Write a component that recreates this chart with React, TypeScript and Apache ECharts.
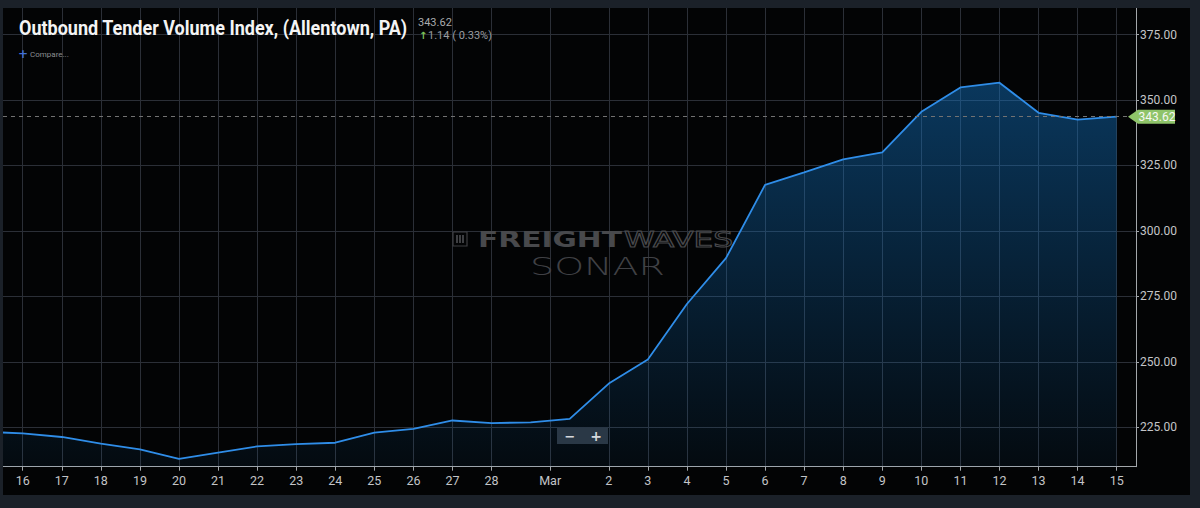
import React, { useEffect, useRef } from 'react';
import * as echarts from 'echarts';

// ---- data ----
const dates = [
  'Feb 15', 'Feb 16', 'Feb 17', 'Feb 18', 'Feb 19', 'Feb 20', 'Feb 21', 'Feb 22',
  'Feb 23', 'Feb 24', 'Feb 25', 'Feb 26', 'Feb 27', 'Feb 28', 'Feb 29',
  'Mar 1', 'Mar 2', 'Mar 3', 'Mar 4', 'Mar 5', 'Mar 6', 'Mar 7', 'Mar 8',
  'Mar 9', 'Mar 10', 'Mar 11', 'Mar 12', 'Mar 13', 'Mar 14', 'Mar 15',
];
const values = [
  223.3, 222.7, 221.3, 218.8, 216.6, 212.9, 215.3, 217.7,
  218.6, 219.1, 223.0, 224.4, 227.6, 226.6, 226.9,
  228.2, 241.7, 250.9, 272.1, 289.6, 317.6, 322.4, 327.3,
  330.0, 345.5, 354.8, 356.6, 345.1, 342.48, 343.62,
];
const unlabeledDates = ['Feb 15', 'Feb 29', 'Mar 1'];
const monthStart = 'Mar 1';
const monthLabel = 'Mar';
const yTicks = [225, 250, 275, 300, 325, 350, 375];
const titleText = 'Outbound Tender Volume Index, (Allentown, PA)';
const lastValueText = '343.62';
const changeText = '1.14 ( 0.33%)';

// axis extents
const xMin = 0.496;
const xMax = 29.494;
const yMin = 209.95;
const yMax = 385.14;

function measure(text: string, font: string): number {
  const c = document.createElement('canvas').getContext('2d');
  if (!c) return text.length * 10;
  c.font = font;
  return c.measureText(text).width;
}

export default function App() {
  const ref = useRef<HTMLDivElement>(null);

  useEffect(() => {
    if (!ref.current) return;
    const chart = echarts.init(ref.current, undefined, { renderer: 'svg' });

    const tickMap: Record<string, string> = {};
    const xTickValues: number[] = [];
    dates.forEach((d, i) => {
      if (!unlabeledDates.includes(d)) {
        xTickValues.push(i);
        tickMap[String(i)] = d.split(' ')[1];
      }
    });
    const monthPos = dates.indexOf(monthStart) - 0.5;
    xTickValues.push(monthPos);
    tickMap[String(monthPos)] = monthLabel;
    xTickValues.sort((a, b) => a - b);

    const seriesData = values.map((v, i) => [i, v]);
    const last = values[values.length - 1];

    const gridColor = '#2b2f37';
    const axisColor = '#a3a7ab';
    const labelColor = '#c3c5c8';

    chart.setOption({
      animation: false,
      backgroundColor: '#030405',
      grid: { left: 3, right: 64, top: 8, bottom: 41.3, containLabel: false },
      xAxis: {
        type: 'value',
        min: xMin,
        max: xMax,
        axisLine: { show: true, onZero: false, lineStyle: { color: axisColor, width: 1 } },
        axisTick: { show: true, length: 4, customValues: xTickValues, lineStyle: { color: axisColor } },
        axisLabel: {
          customValues: xTickValues,
          formatter: (v: number) => tickMap[String(v)] ?? '',
          color: labelColor,
          fontSize: 12.5,
          fontFamily: 'Roboto',
          margin: 7,
        },
        splitLine: { show: true, lineStyle: { color: gridColor, width: 1 } },
      },
      yAxis: {
        type: 'value',
        position: 'right',
        min: yMin,
        max: yMax,
        axisLine: { show: true, onZero: false, lineStyle: { color: axisColor, width: 1 } },
        axisTick: { show: true, length: 3, customValues: yTicks, lineStyle: { color: axisColor } },
        axisLabel: {
          customValues: yTicks,
          formatter: (v: number) => v.toFixed(2),
          color: labelColor,
          fontSize: 12,
          fontFamily: 'Roboto',
          margin: 4,
        },
        splitLine: { show: true, lineStyle: { color: gridColor, width: 1 } },
      },
      series: [
        {
          type: 'line',
          data: seriesData,
          symbol: 'none',
          showSymbol: false,
          clip: true,
          lineStyle: { color: '#2f8de8', width: 1.8 },
          areaStyle: {
            color: new echarts.graphic.LinearGradient(0, 0, 0, 1, [
              { offset: 0, color: 'rgba(18,118,200,0.64)' },
              { offset: 1, color: 'rgba(18,118,200,0.08)' },
            ]),
          },
          markLine: {
            silent: true,
            symbol: ['none', 'none'],
            label: { show: false },
            lineStyle: { color: '#727272', type: [4, 4], width: 1 },
            data: [{ yAxis: last }],
          },
          z: 3,
        },
      ],
    });

    const [rx, ry] = chart.convertToPixel({ gridIndex: 0 }, [xMax, last]) as number[];

    const titleFont = 'bold 21px Roboto';
    const titleScale = 389 / measure(titleText, titleFont);
    const fFont = 'bold 22px "DejaVu Sans"';
    const fScale = 144 / measure('FREIGHT', fFont);
    const wFont = '22px "DejaVu Sans"';
    const wScale = 109 / measure('WAVES', wFont);
    const sFont = '200 25px "DejaVu Sans"';
    const sScale = 135 / measure('SONAR', sFont);

    const slate = '#1b2129';
    const wm = '#3e3f42';

    chart.setOption({
      graphic: [
        // outer frame
        { type: 'rect', shape: { x: 0, y: 0, width: 1200, height: 8 }, style: { fill: slate }, z: 200 },
        { type: 'rect', shape: { x: 0, y: 495, width: 1200, height: 13 }, style: { fill: slate }, z: 200 },
        { type: 'rect', shape: { x: 0, y: 0, width: 3, height: 508 }, style: { fill: slate }, z: 200 },
        { type: 'rect', shape: { x: 1190, y: 0, width: 10, height: 508 }, style: { fill: slate }, z: 200 },
        // title
        {
          type: 'text', x: 19, y: 28, scaleX: titleScale, z: 100,
          style: { text: titleText, font: titleFont, fill: '#f4f4f4', textVerticalAlign: 'middle' },
        },
        {
          type: 'text', x: 418, y: 22, z: 100,
          style: { text: lastValueText, font: '11px Roboto', fill: '#a9abae', textVerticalAlign: 'middle' },
        },
        {
          type: 'text', x: 419, y: 35, z: 100,
          style: { text: '↑', font: 'bold 10px "DejaVu Sans"', fill: '#7cc35a', textVerticalAlign: 'middle' },
        },
        {
          type: 'text', x: 428, y: 35, z: 100,
          style: { text: changeText, font: '11px Roboto', fill: '#9a9ca0', textVerticalAlign: 'middle' },
        },
        {
          type: 'text', x: 18, y: 54, z: 100,
          style: { text: '+', font: 'bold 12px "DejaVu Sans"', fill: '#3f6fd8', textVerticalAlign: 'middle' },
        },
        {
          type: 'text', x: 30, y: 54, z: 100,
          style: { text: 'Compare...', font: '8px Roboto', fill: '#8c8e92', textVerticalAlign: 'middle' },
        },
        // watermark
        {
          type: 'rect', z: 1, shape: { x: 453, y: 232, width: 14, height: 14 },
          style: { fill: 'none', stroke: wm, lineWidth: 1.2 },
        },
        { type: 'rect', z: 1, shape: { x: 456, y: 235, width: 2, height: 8 }, style: { fill: wm } },
        { type: 'rect', z: 1, shape: { x: 459, y: 235, width: 2, height: 8 }, style: { fill: wm } },
        { type: 'rect', z: 1, shape: { x: 462, y: 235, width: 2, height: 8 }, style: { fill: wm } },
        {
          type: 'text', x: 478, y: 239, scaleX: fScale, z: 1,
          style: { text: 'FREIGHT', font: fFont, fill: '#48494c', textVerticalAlign: 'middle' },
        },
        {
          type: 'text', x: 624, y: 239, scaleX: wScale, z: 1,
          style: { text: 'WAVES', font: wFont, fill: 'none', stroke: '#48494c', lineWidth: 1, textVerticalAlign: 'middle' },
        },
        {
          type: 'text', x: 530, y: 266, scaleX: sScale, z: 1,
          style: { text: 'SONAR', font: sFont, fill: '#404145', textVerticalAlign: 'middle' },
        },
        // zoom buttons
        {
          type: 'rect', z: 100, shape: { x: 557, y: 428, width: 51, height: 16 },
          style: { fill: '#2a3846' },
        },
        {
          type: 'text', x: 570, y: 436, z: 101,
          style: { text: '−', font: 'bold 13px "DejaVu Sans"', fill: '#d5d8dc', align: 'center', textVerticalAlign: 'middle' },
        },
        {
          type: 'text', x: 596, y: 436, z: 101,
          style: { text: '+', font: 'bold 14px "DejaVu Sans"', fill: '#d5d8dc', align: 'center', textVerticalAlign: 'middle' },
        },
        // last value tag
        {
          type: 'polygon', z: 150,
          shape: { points: [[rx - 8, ry], [rx + 2, ry - 7], [rx + 39, ry - 7], [rx + 39, ry + 7], [rx + 2, ry + 7]] },
          style: { fill: '#8fc46a' },
        },
        {
          type: 'text', x: rx + 21, y: ry + 0.5, z: 151,
          style: { text: last.toFixed(2), font: '12px Roboto', fill: '#f6f8f4', align: 'center', textVerticalAlign: 'middle' },
        },
      ],
    });

    return () => chart.dispose();
  }, []);

  return (
    <div
      ref={ref}
      style={{ position: 'fixed', left: 0, top: 0, width: 1200, height: 508 }}
    />
  );
}
